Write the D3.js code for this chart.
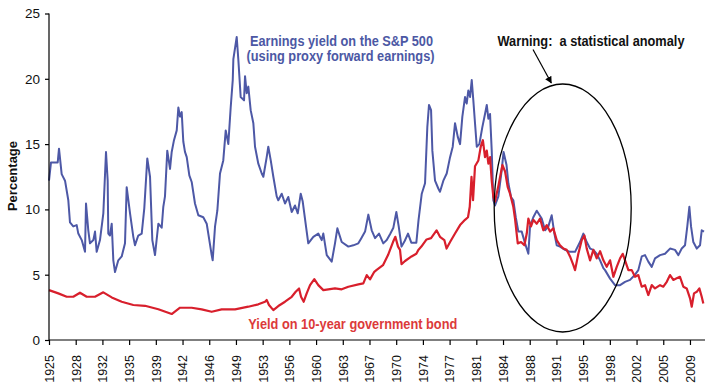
<!DOCTYPE html>
<html>
<head>
<meta charset="utf-8">
<script src="https://cdn.jsdelivr.net/npm/d3@7"></script>
<style>
  html, body { margin: 0; padding: 0; background: #fff; }
  svg { display: block; font-family: "Liberation Sans", Arial, sans-serif; }
</style>
</head>
<body>
<svg id="chart" width="718" height="392"></svg>
<script>
// ---- data (year, percentage) ----
const earningsYears = [1925.00,1925.26,1926.14,1926.31,1926.66,1927.10,1927.53,1927.75,1928.18,1928.63,1928.84,1929.29,1929.72,1929.85,1930.15,1930.37,1930.81,1931.03,1931.25,1931.68,1932.12,1932.47,1932.69,1932.77,1932.99,1933.22,1933.43,1933.65,1934.08,1934.53,1934.96,1935.18,1935.62,1936.05,1936.27,1936.70,1937.15,1937.49,1937.88,1938.24,1938.54,1938.89,1939.33,1939.77,1939.98,1940.20,1940.50,1940.86,1941.08,1941.38,1941.74,1941.95,1942.17,1942.39,1942.60,1942.82,1943.05,1943.39,1943.70,1944.13,1944.57,1945.22,1945.67,1946.01,1946.32,1946.45,1946.76,1947.06,1947.41,1947.84,1948.16,1948.50,1948.81,1949.08,1949.16,1949.60,1949.81,1950.12,1950.56,1950.69,1950.91,1951.12,1951.43,1951.78,1952.00,1952.43,1952.88,1953.09,1953.53,1953.74,1954.06,1954.40,1954.84,1955.05,1955.50,1955.93,1956.36,1956.81,1957.24,1957.60,1957.99,1958.25,1958.68,1958.98,1959.64,1960.29,1960.74,1960.95,1961.40,1962.05,1962.48,1962.79,1963.36,1964.23,1964.88,1965.54,1965.93,1966.42,1966.85,1967.29,1967.73,1968.25,1968.81,1969.26,1969.69,1970.13,1970.52,1970.83,1971.20,1971.63,1972.05,1972.48,1973.14,1973.43,1973.85,1974.28,1974.58,1974.80,1975.07,1975.24,1975.59,1976.02,1976.24,1976.68,1977.12,1977.56,1977.91,1978.21,1978.57,1978.87,1979.17,1979.52,1979.74,1979.95,1980.18,1980.40,1980.61,1980.83,1981.06,1981.40,1981.79,1982.14,1982.37,1982.58,1982.80,1983.02,1983.23,1983.45,1983.89,1984.33,1984.57,1984.96,1985.20,1985.55,1985.85,1986.17,1986.51,1986.95,1987.39,1987.82,1988.04,1988.47,1988.92,1989.13,1989.57,1990.01,1990.44,1990.88,1991.23,1991.54,1991.97,1992.63,1993.28,1993.94,1994.59,1995.03,1995.47,1995.91,1996.34,1996.78,1997.22,1997.65,1997.87,1998.53,1999.18,1999.84,2000.49,2001.15,2001.80,2002.23,2002.68,2003.11,2003.54,2003.99,2004.42,2005.08,2005.73,2006.39,2007.04,2007.48,2007.92,2008.35,2008.65,2008.92,2009.14,2009.44,2009.89,2010.32,2010.54,2010.84];
const earningsYield = [12.2,13.6,13.6,14.65,12.7,12.2,10.7,9.0,8.7,8.8,8.15,7.65,6.75,10.45,8.4,7.4,7.65,8.3,6.75,7.65,9.7,14.4,12.2,8.15,8.0,8.9,6.1,5.2,6.1,6.4,7.4,11.7,9.7,7.9,7.26,8.0,8.15,10.1,13.9,12.5,7.65,6.5,8.9,8.6,10.2,11.0,14.5,13.1,14.4,15.3,16.05,17.8,17.1,17.45,15.2,14.4,14.0,12.6,12.1,10.45,9.55,9.4,8.9,7.65,6.5,6.1,8.7,9.9,12.75,13.75,16.05,15.0,17.8,19.9,21.5,23.2,21.5,18.6,18.35,20.2,18.9,19.4,17.6,16.6,14.8,13.5,12.75,12.5,14.0,14.8,13.75,12.5,11.0,10.7,11.2,10.45,10.95,9.8,10.3,9.7,11.2,10.6,8.7,7.4,7.9,8.15,7.65,8.15,6.5,6.0,7.4,8.55,7.5,7.15,7.25,7.4,7.8,8.3,9.6,8.4,7.8,8.15,7.4,7.65,8.1,8.6,9.8,8.7,7.15,7.6,8.15,7.45,7.45,9.2,11.2,12.0,16.3,18.0,17.6,14.5,12.2,11.6,11.35,12.2,12.75,14.0,14.8,16.6,15.55,15.0,17.1,18.6,18.1,19.1,18.6,19.9,18.35,16.6,14.8,15.0,16.3,17.3,18.0,16.95,17.3,14.5,10.7,10.3,11.0,13.0,14.4,13.4,12.0,10.95,10.7,9.4,8.3,8.3,7.4,6.6,8.7,9.4,9.9,9.7,9.3,8.4,8.7,9.55,8.15,7.25,7.15,6.9,6.75,6.75,7.5,8.15,7.5,7.0,6.9,6.6,6.1,5.5,5.35,4.7,4.2,4.2,4.45,4.6,5.0,5.35,6.4,6.5,6.0,5.6,6.25,6.5,6.6,7.0,6.9,6.5,7.0,7.25,8.7,10.2,8.7,7.5,7.0,7.25,8.4,8.3];

const bondYears = [1925.00,1926.22,1927.32,1928.18,1929.06,1929.94,1931.03,1932.12,1933.22,1934.53,1936.05,1937.58,1939.33,1941.08,1942.17,1943.70,1945.01,1946.32,1947.63,1949.38,1951.12,1952.43,1953.31,1953.53,1953.83,1954.40,1955.05,1955.93,1956.81,1957.33,1957.77,1958.03,1958.38,1958.77,1959.21,1959.77,1960.29,1960.95,1961.61,1962.48,1963.36,1964.23,1965.54,1966.19,1966.64,1967.07,1967.63,1967.90,1968.77,1969.43,1970.08,1970.39,1970.74,1971.00,1971.20,1971.66,1972.51,1973.14,1973.40,1973.80,1974.48,1975.07,1975.79,1976.24,1976.81,1977.10,1977.56,1978.21,1978.87,1979.52,1979.91,1980.14,1980.37,1980.57,1980.83,1981.27,1981.58,1981.86,1982.14,1982.37,1982.58,1982.80,1983.02,1983.23,1983.45,1983.89,1984.42,1984.77,1985.12,1985.42,1985.85,1986.07,1986.43,1986.86,1987.30,1987.61,1987.82,1988.17,1988.47,1988.92,1989.35,1989.78,1990.23,1990.66,1991.09,1991.54,1991.97,1992.41,1992.85,1993.28,1993.72,1993.94,1994.37,1994.82,1995.16,1995.47,1995.91,1996.34,1996.78,1997.22,1997.65,1998.09,1998.53,1998.96,1999.40,1999.84,2000.19,2000.49,2000.93,2001.37,2001.80,2002.23,2002.68,2003.11,2003.54,2003.99,2004.42,2005.08,2005.51,2005.96,2006.39,2006.82,2007.26,2007.69,2008.13,2008.57,2009.01,2009.23,2009.53,2009.89,2010.23,2010.54,2010.75];
const bondYield = [3.82,3.57,3.31,3.31,3.62,3.31,3.31,3.65,3.26,2.93,2.68,2.62,2.35,1.99,2.47,2.47,2.35,2.16,2.35,2.35,2.55,2.73,2.93,3.06,2.68,2.29,2.6,2.93,3.31,3.69,3.95,3.31,2.93,3.57,4.2,4.66,4.2,3.82,3.88,3.95,3.88,4.08,4.26,4.33,4.97,4.64,5.22,5.35,5.73,6.5,7.5,7.9,7.15,6.9,5.8,6.05,6.4,6.6,6.9,7.15,7.7,7.8,8.4,7.9,7.65,7.0,7.5,8.15,8.8,9.2,9.4,10.2,12.5,10.7,13.3,13.75,14.8,15.3,14.0,14.5,13.5,14.0,12.2,10.95,10.6,11.8,13.4,12.9,11.7,11.2,10.2,9.3,7.4,7.5,7.25,8.15,9.3,8.7,9.2,8.9,9.3,8.4,8.8,8.3,8.55,7.65,7.25,7.0,6.9,6.4,5.73,5.35,6.6,7.65,8.0,7.0,6.1,6.9,6.25,6.8,6.1,5.6,6.1,4.84,5.6,6.25,6.6,6.1,5.35,5.35,4.84,4.97,4.08,4.2,3.44,4.2,3.95,4.2,4.08,4.46,4.97,4.6,4.72,4.84,4.08,3.95,3.19,2.55,3.57,3.69,3.95,3.31,2.8];

const tickYears = d3.range(0, 25).map(i => 1925 + 3.5 * i);
const tickLabels = ["1925","1928","1932","1935","1939","1942","1946","1949","1953","1956","1960","1963","1967","1970","1974","1977","1981","1984","1988","1991","1995","1998","2002","2005","2009"];
const yTicks = [0, 5, 10, 15, 20, 25];

// ---- drawing ----
const svg = d3.select("#chart");
const x = d3.scaleLinear().domain([1925, 2010.97]).range([49, 705]);
const y = d3.scaleLinear().domain([0, 25]).range([340, 13.5]);

const blue = "#4d58a6", red = "#d81f2c";

const line = d3.line().x(d => x(d[0])).y(d => y(d[1]));

svg.append("path")
  .datum(earningsYears.map((t, i) => [t, earningsYield[i]]))
  .attr("d", line).attr("fill", "none").attr("stroke", blue)
  .attr("stroke-width", 2).attr("stroke-linejoin", "round");

svg.append("path")
  .datum(bondYears.map((t, i) => [t, bondYield[i]]))
  .attr("d", line).attr("fill", "none").attr("stroke", red)
  .attr("stroke-width", 2.2).attr("stroke-linejoin", "round");

// y axis
const yAxis = svg.append("g").attr("transform", "translate(49,0)")
  .call(d3.axisLeft(y).tickValues(yTicks).tickSize(4).tickPadding(5));
yAxis.selectAll("text").attr("font-size", "13.5px").attr("fill", "#111").attr("font-family", "Liberation Sans, Arial, sans-serif");
yAxis.selectAll("line, path").attr("stroke", "#000").attr("stroke-width", 1.2);
yAxis.select(".domain").attr("d", "M0," + y(25) + "V" + y(0));

// x axis
const xAxis = svg.append("g").attr("transform", "translate(0,340)")
  .call(d3.axisBottom(x).tickValues(tickYears).tickSize(5)
    .tickFormat((d, i) => tickLabels[i]));
xAxis.selectAll("line, path").attr("stroke", "#000").attr("stroke-width", 1.2);
xAxis.select(".domain").attr("d", "M49,0H705");
xAxis.selectAll("text")
  .attr("font-size", "12.5px").attr("fill", "#111")
  .attr("font-family", "Liberation Sans, Arial, sans-serif")
  .attr("transform", "rotate(-90)")
  .attr("text-anchor", "end")
  .attr("x", -15).attr("y", 0).attr("dy", "0.35em");

// y axis title
svg.append("text")
  .attr("transform", "translate(17,176) rotate(-90)")
  .attr("text-anchor", "middle")
  .attr("font-size", "13px").attr("font-weight", "bold").attr("fill", "#111")
  .text("Percentage");

// annotations
function label(txt, cx, by, w, col) {
  svg.append("text").attr("x", cx).attr("y", by)
    .attr("text-anchor", "middle")
    .style("white-space", "pre")
    .attr("font-size", "14.5px").attr("font-weight", "bold").attr("fill", col)
    .attr("textLength", w).attr("lengthAdjust", "spacingAndGlyphs")
    .text(txt);
}
label("Earnings yield on the S&P 500", 341.5, 46.3, 183, "#4c58a4");
label("(using proxy forward earnings)", 340.5, 61.3, 188, "#4c58a4");
label("Warning:\u00a0 a statistical anomaly", 591, 46, 187, "#111");
label("Yield on 10-year government bond", 352.8, 328.5, 209, "#dc3a3a");

// ellipse
svg.append("ellipse").attr("cx", 562.7).attr("cy", 208)
  .attr("rx", 68.5).attr("ry", 124)
  .attr("fill", "none").attr("stroke", "#000").attr("stroke-width", 1.3);

// arrow
svg.append("defs").append("marker").attr("id", "ah")
  .attr("viewBox", "0 0 10 10").attr("refX", 9).attr("refY", 5)
  .attr("markerWidth", 7).attr("markerHeight", 7).attr("orient", "auto")
  .attr("markerUnits", "userSpaceOnUse")
  .append("path").attr("d", "M0,0L10,5L0,10z").attr("fill", "#000");
svg.append("line").attr("x1", 533).attr("y1", 49.5).attr("x2", 551.3).attr("y2", 83)
  .attr("stroke", "#000").attr("stroke-width", 1.2).attr("marker-end", "url(#ah)");
</script>
</body>
</html>
